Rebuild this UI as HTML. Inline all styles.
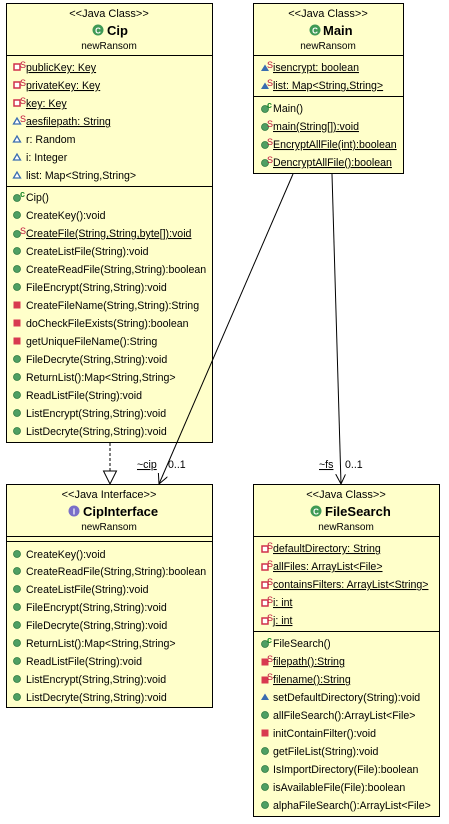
<!DOCTYPE html>
<html><head><meta charset="utf-8"><style>
html,body{margin:0;padding:0;background:#fff;width:449px;height:824px;overflow:hidden}
svg text{font-family:"Liberation Sans",sans-serif;font-size:10.6px;fill:#000}
.u{text-decoration:underline}
.s{font-size:9px;fill:#c0103a}
.c{font-size:9px;fill:#1a8a2a;font-weight:bold}
.h{font-size:11px}
.t{font-size:13px;font-weight:bold}
.p{font-size:10px}
</style></head><body>
<svg width="449" height="824" xmlns="http://www.w3.org/2000/svg">
<defs>
<g id="pub"><circle cx="0" cy="0" r="3.5" fill="#4f9f63" stroke="#2f7a40" stroke-width="0.8"/></g>
<g id="pf"><rect x="-3" y="-3" width="6" height="6" fill="#fff" stroke="#d0304a" stroke-width="1.5"/></g>
<g id="pm"><rect x="-3.5" y="-3.5" width="7" height="7" fill="#d83a50"/></g>
<g id="pk"><path d="M-3.5 3 L0 -3 L3.5 3 Z" fill="#fff" stroke="#3a6db0" stroke-width="1.3"/></g>
<g id="pkf"><path d="M-4 3 L0 -3.5 L4 3 Z" fill="#3a6db0"/></g>
<marker id="open" markerWidth="12" markerHeight="12" refX="10" refY="5" orient="auto" markerUnits="userSpaceOnUse"><path d="M0 0 L10 5 L0 10" fill="none" stroke="#000" stroke-width="1"/></marker>
</defs>

<!-- Cip -->
<rect x="6.5" y="3.5" width="206" height="439" fill="#ffffca" stroke="#000"/>
<line x1="6" y1="55.5" x2="213" y2="55.5" stroke="#000"/>
<line x1="6" y1="186.5" x2="213" y2="186.5" stroke="#000"/>
<text x="109" y="17" text-anchor="middle" class="h">&lt;&lt;Java Class&gt;&gt;</text>
<circle cx="98" cy="30" r="5.5" fill="#3f9a55"/><text x="98" y="33.5" text-anchor="middle" style="font-size:8px;font-weight:bold;fill:#fff">C</text>
<text x="107" y="35" class="t">Cip</text>
<text x="109" y="49" text-anchor="middle" class="p">newRansom</text>

<use href="#pf" x="17" y="67"/><text x="20" y="68" class="s">S</text><text x="26" y="71" class="u">publicKey: Key</text>
<use href="#pf" x="17" y="85"/><text x="20" y="86" class="s">S</text><text x="26" y="89" class="u">privateKey: Key</text>
<use href="#pf" x="17" y="103"/><text x="20" y="104" class="s">S</text><text x="26" y="107" class="u">key: Key</text>
<use href="#pk" x="17" y="121"/><text x="20" y="122" class="s">S</text><text x="26" y="125" class="u">aesfilepath: String</text>
<use href="#pk" x="17" y="139"/><text x="26" y="143">r: Random</text>
<use href="#pk" x="17" y="157"/><text x="26" y="161">i: Integer</text>
<use href="#pk" x="17" y="175"/><text x="26" y="179">list: Map&lt;String,String&gt;</text>

<use href="#pub" x="17" y="198"/><text x="20" y="197" class="c">c</text><text x="26" y="201">Cip()</text>
<use href="#pub" x="17" y="215"/><text x="26" y="219">CreateKey():void</text>
<use href="#pub" x="17" y="234"/><text x="20" y="234" class="s">S</text><text x="26" y="237" class="u">CreateFile(String,String,byte[]):void</text>
<use href="#pub" x="17" y="251"/><text x="26" y="255">CreateListFile(String):void</text>
<use href="#pub" x="17" y="269"/><text x="26" y="273">CreateReadFile(String,String):boolean</text>
<use href="#pub" x="17" y="287"/><text x="26" y="291">FileEncrypt(String,String):void</text>
<use href="#pm" x="17" y="305"/><text x="26" y="309">CreateFileName(String,String):String</text>
<use href="#pm" x="17" y="323"/><text x="26" y="327">doCheckFileExists(String):boolean</text>
<use href="#pm" x="17" y="341"/><text x="26" y="345">getUniqueFileName():String</text>
<use href="#pub" x="17" y="359"/><text x="26" y="363">FileDecryte(String,String):void</text>
<use href="#pub" x="17" y="377"/><text x="26" y="381">ReturnList():Map&lt;String,String&gt;</text>
<use href="#pub" x="17" y="395"/><text x="26" y="399">ReadListFile(String):void</text>
<use href="#pub" x="17" y="413"/><text x="26" y="417">ListEncrypt(String,String):void</text>
<use href="#pub" x="17" y="431"/><text x="26" y="435">ListDecryte(String,String):void</text>

<!-- CipInterface -->
<rect x="6.5" y="484.5" width="206" height="223" fill="#ffffca" stroke="#000"/>
<line x1="6" y1="536.5" x2="213" y2="536.5" stroke="#000"/>
<line x1="6" y1="541.5" x2="213" y2="541.5" stroke="#000"/>
<text x="109" y="498" text-anchor="middle" class="h">&lt;&lt;Java Interface&gt;&gt;</text>
<circle cx="74" cy="511" r="5.5" fill="#7a6fc8"/><text x="74" y="514.5" text-anchor="middle" style="font-size:8px;font-weight:bold;fill:#fff">I</text>
<text x="83" y="516" class="t">CipInterface</text>
<text x="109" y="530" text-anchor="middle" class="p">newRansom</text>
<use href="#pub" x="17" y="554"/><text x="26" y="558">CreateKey():void</text>
<use href="#pub" x="17" y="571"/><text x="26" y="575">CreateReadFile(String,String):boolean</text>
<use href="#pub" x="17" y="589"/><text x="26" y="593">CreateListFile(String):void</text>
<use href="#pub" x="17" y="607"/><text x="26" y="611">FileEncrypt(String,String):void</text>
<use href="#pub" x="17" y="625"/><text x="26" y="629">FileDecryte(String,String):void</text>
<use href="#pub" x="17" y="643"/><text x="26" y="647">ReturnList():Map&lt;String,String&gt;</text>
<use href="#pub" x="17" y="661"/><text x="26" y="665">ReadListFile(String):void</text>
<use href="#pub" x="17" y="679"/><text x="26" y="683">ListEncrypt(String,String):void</text>
<use href="#pub" x="17" y="697"/><text x="26" y="701">ListDecryte(String,String):void</text>

<!-- Main -->
<rect x="253.5" y="3.5" width="150" height="170" fill="#ffffca" stroke="#000"/>
<line x1="253" y1="55.5" x2="404" y2="55.5" stroke="#000"/>
<line x1="253" y1="96.5" x2="404" y2="96.5" stroke="#000"/>
<text x="328" y="17" text-anchor="middle" class="h">&lt;&lt;Java Class&gt;&gt;</text>
<circle cx="315" cy="30" r="5.5" fill="#3f9a55"/><text x="315" y="33.5" text-anchor="middle" style="font-size:8px;font-weight:bold;fill:#fff">C</text>
<text x="323" y="35" class="t">Main</text>
<text x="328" y="49" text-anchor="middle" class="p">newRansom</text>
<use href="#pkf" x="265" y="68"/><text x="267" y="68" class="s">S</text><text x="273" y="71" class="u">isencrypt: boolean</text>
<use href="#pkf" x="265" y="86"/><text x="267" y="86" class="s">S</text><text x="273" y="89" class="u">list: Map&lt;String,String&gt;</text>
<use href="#pub" x="265" y="109"/><text x="267" y="108" class="c">c</text><text x="273" y="112">Main()</text>
<use href="#pub" x="265" y="127"/><text x="267" y="127" class="s">S</text><text x="273" y="130" class="u">main(String[]):void</text>
<use href="#pub" x="265" y="145"/><text x="267" y="145" class="s">S</text><text x="273" y="148" class="u">EncryptAllFile(int):boolean</text>
<use href="#pub" x="265" y="163"/><text x="267" y="163" class="s">S</text><text x="273" y="166" class="u">DencryptAllFile():boolean</text>

<!-- FileSearch -->
<rect x="253.5" y="484.5" width="186" height="332" fill="#ffffca" stroke="#000"/>
<line x1="253" y1="536.5" x2="440" y2="536.5" stroke="#000"/>
<line x1="253" y1="631.5" x2="440" y2="631.5" stroke="#000"/>
<text x="346" y="498" text-anchor="middle" class="h">&lt;&lt;Java Class&gt;&gt;</text>
<circle cx="316" cy="511" r="5.5" fill="#3f9a55"/><text x="316" y="514.5" text-anchor="middle" style="font-size:8px;font-weight:bold;fill:#fff">C</text>
<text x="325" y="516" class="t">FileSearch</text>
<text x="346" y="530" text-anchor="middle" class="p">newRansom</text>
<use href="#pf" x="265" y="549"/><text x="267" y="549" class="s">S</text><text x="273" y="552" class="u">defaultDirectory: String</text>
<use href="#pf" x="265" y="567"/><text x="267" y="567" class="s">S</text><text x="273" y="570" class="u">allFiles: ArrayList&lt;File&gt;</text>
<use href="#pf" x="265" y="585"/><text x="267" y="585" class="s">S</text><text x="273" y="588" class="u">containsFilters: ArrayList&lt;String&gt;</text>
<use href="#pf" x="265" y="603"/><text x="267" y="603" class="s">S</text><text x="273" y="606" class="u">i: int</text>
<use href="#pf" x="265" y="621"/><text x="267" y="621" class="s">S</text><text x="273" y="624" class="u">j: int</text>
<use href="#pub" x="265" y="644"/><text x="267" y="643" class="c">c</text><text x="273" y="647">FileSearch()</text>
<use href="#pm" x="265" y="662"/><text x="267" y="662" class="s">S</text><text x="273" y="665" class="u">filepath():String</text>
<use href="#pm" x="265" y="680"/><text x="267" y="680" class="s">S</text><text x="273" y="683" class="u">filename():String</text>
<use href="#pkf" x="265" y="697"/><text x="273" y="701">setDefaultDirectory(String):void</text>
<use href="#pub" x="265" y="715"/><text x="273" y="719">allFileSearch():ArrayList&lt;File&gt;</text>
<use href="#pm" x="265" y="733"/><text x="273" y="737">initContainFilter():void</text>
<use href="#pub" x="265" y="751"/><text x="273" y="755">getFileList(String):void</text>
<use href="#pub" x="265" y="769"/><text x="273" y="773">IsImportDirectory(File):boolean</text>
<use href="#pub" x="265" y="787"/><text x="273" y="791">isAvailableFile(File):boolean</text>
<use href="#pub" x="265" y="805"/><text x="273" y="809">alphaFileSearch():ArrayList&lt;File&gt;</text>

<!-- connectors -->
<line x1="110" y1="443" x2="110" y2="471" stroke="#000" stroke-dasharray="3,2"/>
<path d="M103.5 471 L116.5 471 L110 484 Z" fill="#fff" stroke="#000"/>
<line x1="293" y1="174" x2="159" y2="484" stroke="#000" marker-end="url(#open)"/>
<text x="137" y="468" class="u">~cip</text><text x="168" y="468">0..1</text>
<line x1="332" y1="174" x2="341" y2="484" stroke="#000" marker-end="url(#open)"/>
<text x="319" y="468" class="u">~fs</text><text x="345" y="468">0..1</text>
</svg>
</body></html>
